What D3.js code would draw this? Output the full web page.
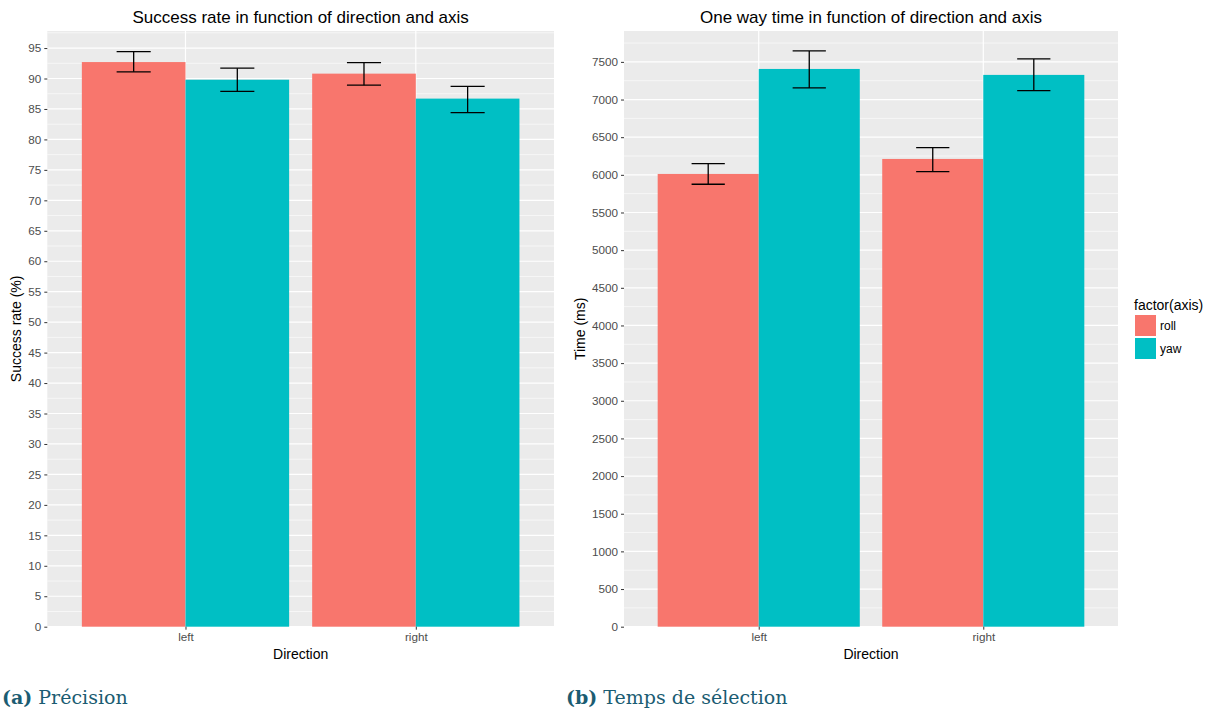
<!DOCTYPE html>
<html><head><meta charset="utf-8">
<script src="https://cdn.jsdelivr.net/npm/d3@7"></script>
<style>body{margin:0;background:#fff}svg{display:block}</style>
</head><body>
<svg id="c" width="1221" height="711"></svg>
<script>
const directions = ["left", "right"];
const axes = ["roll", "yaw"];
const axisColors = ["#F8766D", "#00BFC4"];
// Success rate (%)
const successMean = [[92.7, 89.8], [90.8, 86.7]];
const successLow  = [[91.1, 87.9], [88.9, 84.4]];
const successHigh = [[94.4, 91.7], [92.6, 88.7]];
const successTicks = [0,5,10,15,20,25,30,35,40,45,50,55,60,65,70,75,80,85,90,95];
// One way time (ms)
const timeMean = [[6012, 7406], [6211, 7327]];
const timeLow  = [[5875, 7154], [6042, 7118]];
const timeHigh = [[6149, 7645], [6361, 7539]];
const timeTicks = [0,500,1000,1500,2000,2500,3000,3500,4000,4500,5000,5500,6000,6500,7000,7500];

const svg = d3.select("#c");
const font = "'Liberation Sans', Arial, Helvetica, sans-serif";

function panel(o) {
  const g = svg.append("g");
  const y = d3.scaleLinear().domain(o.ydom).range([o.bottom, o.top]);
  const x = d3.scaleLinear().domain([0.4, 2.6]).range([o.left, o.right]);
  g.append("rect").attr("x", o.left).attr("y", o.top).attr("width", o.right - o.left)
    .attr("height", o.bottom - o.top).attr("fill", "#EBEBEB");
  // minor grid
  const step = o.ticks[1] - o.ticks[0];
  const minor = d3.range(step / 2, o.ydom[1], step);
  g.selectAll(".mn").data(minor).enter().append("line")
    .attr("x1", o.left).attr("x2", o.right).attr("y1", d => y(d)).attr("y2", d => y(d))
    .attr("stroke", "#fff").attr("stroke-width", 0.6);
  g.selectAll(".mj").data(o.ticks).enter().append("line")
    .attr("x1", o.left).attr("x2", o.right).attr("y1", d => y(d)).attr("y2", d => y(d))
    .attr("stroke", "#fff").attr("stroke-width", 1.2);
  g.selectAll(".vx").data(directions).enter().append("line")
    .attr("x1", (d, i) => x(i + 1)).attr("x2", (d, i) => x(i + 1))
    .attr("y1", o.top).attr("y2", o.bottom).attr("stroke", "#fff").attr("stroke-width", 1.2);
  // bars
  const bw = 0.45;
  directions.forEach((dir, i) => {
    axes.forEach((ax, j) => {
      const cx0 = i + 1 - bw + j * bw;
      g.append("rect").attr("x", x(cx0)).attr("width", x(cx0 + bw) - x(cx0))
        .attr("y", y(o.mean[i][j])).attr("height", y(0) - y(o.mean[i][j]))
        .attr("fill", axisColors[j]);
    });
  });
  directions.forEach((dir, i) => {
    axes.forEach((ax, j) => {
      const c = i + 1 - bw / 2 + j * bw;
      const hw = 0.074;
      const s = g.append("g").attr("stroke", "#000").attr("stroke-width", 1.3).attr("fill", "none");
      s.append("line").attr("x1", x(c)).attr("x2", x(c)).attr("y1", y(o.low[i][j])).attr("y2", y(o.high[i][j]));
      s.append("line").attr("x1", x(c - hw)).attr("x2", x(c + hw)).attr("y1", y(o.low[i][j])).attr("y2", y(o.low[i][j]));
      s.append("line").attr("x1", x(c - hw)).attr("x2", x(c + hw)).attr("y1", y(o.high[i][j])).attr("y2", y(o.high[i][j]));
    });
  });
  // y axis
  const ya = g.append("g").attr("transform", `translate(${o.left},0)`)
    .call(d3.axisLeft(y).tickValues(o.ticks).tickFormat(d3.format("d")).tickSize(3).tickPadding(3));
  ya.select(".domain").remove();
  ya.selectAll("line").attr("stroke", "#333");
  ya.selectAll("text").attr("fill", "#4D4D4D").style("font-family", font).style("font-size", "11.7px");
  // x axis
  const xa = g.append("g").attr("transform", `translate(0,${o.bottom})`)
    .call(d3.axisBottom(x).tickValues([1, 2]).tickFormat((d) => directions[d - 1]).tickSize(3).tickPadding(3));
  xa.select(".domain").remove();
  xa.selectAll("line").attr("stroke", "#333");
  xa.selectAll("text").attr("fill", "#4D4D4D").style("font-family", font).style("font-size", "11.7px");
  // titles
  const mid = (o.left + o.right) / 2;
  g.append("text").attr("x", mid).attr("y", 23).attr("text-anchor", "middle")
    .style("font-family", font).style("font-size", "17px").attr("fill", "#000").text(o.title);
  g.append("text").attr("x", mid).attr("y", 659).attr("text-anchor", "middle")
    .style("font-family", font).style("font-size", "14px").attr("fill", "#000").text("Direction");
  g.append("text").attr("transform", `translate(${o.ylabX},${(o.top + o.bottom) / 2}) rotate(-90)`)
    .attr("text-anchor", "middle").style("font-family", font).style("font-size", "14px").attr("fill", "#000").text(o.ylab);
  return g;
}

panel({left: 47.3, right: 554, top: 31, bottom: 626.7, ydom: [0, 97.8], ticks: successTicks,
  mean: successMean, low: successLow, high: successHigh,
  title: "Success rate in function of direction and axis", ylab: "Success rate (%)", ylabX: 21});
panel({left: 624, right: 1118, top: 31, bottom: 626.7, ydom: [0, 7910], ticks: timeTicks,
  mean: timeMean, low: timeLow, high: timeHigh,
  title: "One way time in function of direction and axis", ylab: "Time (ms)", ylabX: 585});

// legend
const lg = svg.append("g");
lg.append("text").attr("x", 1134).attr("y", 310).style("font-family", font).style("font-size", "14px").text("factor(axis)");
axes.forEach((a, j) => {
  lg.append("rect").attr("x", 1135).attr("y", 315 + j * 23).attr("width", 21).attr("height", 21).attr("fill", axisColors[j]);
  lg.append("text").attr("x", 1160).attr("y", 330 + j * 23).style("font-family", font).style("font-size", "12px").text(a);
});

// captions
const capFont = "'DejaVu Serif', 'Liberation Serif', serif";
const cap = (x, lab, txt) => {
  const t = svg.append("text").attr("x", x).attr("y", 704).style("font-family", capFont)
    .style("font-size", "19px").attr("fill", "#1B5C72");
  t.append("tspan").style("font-weight", "bold").text(lab);
  t.append("tspan").text(" " + txt);
};
cap(2, "(a)", "Précision");
cap(566, "(b)", "Temps de sélection");
</script>
</body></html>
